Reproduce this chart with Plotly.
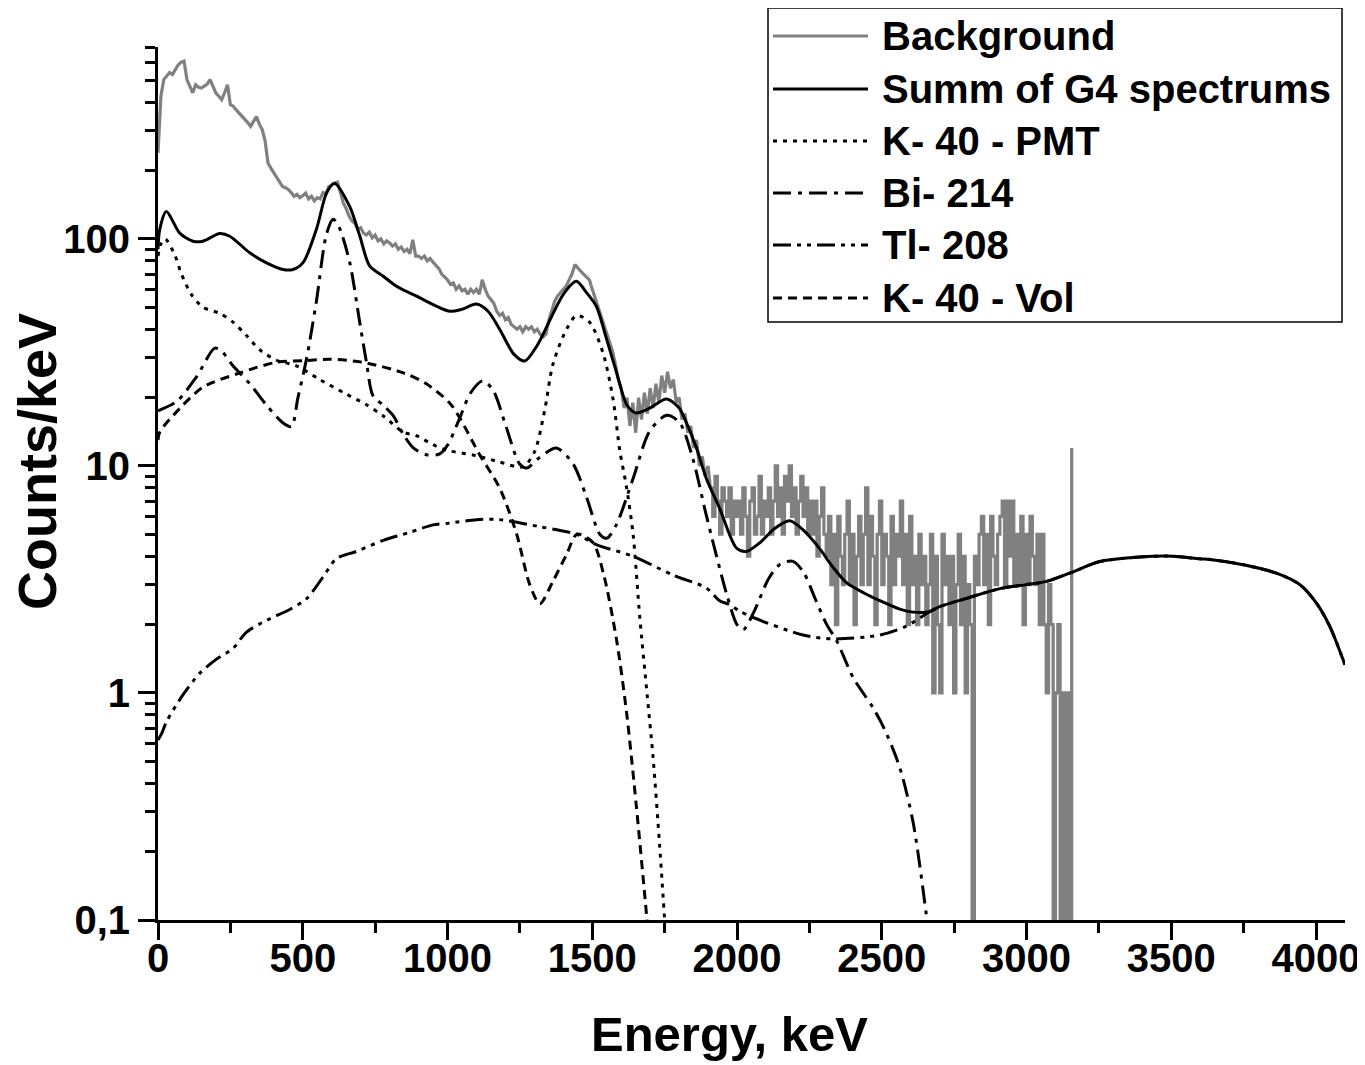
import numpy as np
import plotly.graph_objects as go

# ---------------- data ----------------
# Background spectrum, low-energy part (10 keV grid 0..1900)
bg_lo_x = list(range(0, 1901, 10))
bg_lo_y = [
    239, 424, 503, 520, 540, 530, 560, 585, 600, 606,   # 0-90
    503, 470, 440, 477, 465, 462, 470, 480, 503, 470,   # 100-190
    439, 425, 410, 440, 477, 390, 384, 370, 359, 345,   # 200-290
    336, 325, 313, 330, 346, 320, 303, 270, 216, 205,   # 300-390
    195, 185, 176, 170, 168, 165, 160, 154, 157, 152,   # 400-490
    155, 159, 150, 154, 147, 152, 150, 160, 158, 170,   # 500-590
    172, 176, 178, 160, 144, 136, 126, 120, 117, 110,   # 600-690
    112, 106, 104, 107, 101, 104, 98, 100, 95, 98,      # 700-790
    96, 93, 95, 90, 92, 88, 90, 86, 99, 84,             # 800-890
    84, 82, 84, 80, 82, 79, 76, 74, 70, 68,             # 900-990
    66, 63, 64, 60, 62, 59, 60, 57, 60, 58,             # 1000-1090
    60, 57, 66, 60, 56, 54, 52, 48, 46, 47,             # 1100-1190
    44, 45, 42, 41, 40, 41, 39, 41, 40, 41,             # 1200-1290
    39, 40, 38, 37, 38, 44, 49, 53, 56, 58,             # 1300-1390
    60, 62, 66, 70, 77, 74, 72, 70, 68, 66,             # 1400-1490
    60, 55, 50, 46, 42, 38, 35, 32, 28, 24,             # 1500-1590
    22, 18, 20, 15, 19, 14, 20, 16, 21, 17,             # 1600-1690
    22, 18, 23, 19, 25, 21, 26, 22, 24, 19,             # 1700-1790
    20, 16, 17, 14, 15, 12, 13, 10, 11, 9,              # 1800-1890
    10,                                                 # 1900
]
# Background spectrum, high-energy part (8 keV grid 1908..3156), integer counts
bg_hi_x = list(range(1908, 3157, 8))
bg_hi_y = [
    8, 6, 9, 7, 5, 8, 7, 6, 8, 5, 7, 6,                               # 1908-1996
    7, 5, 8, 6, 4, 7, 8, 5, 6, 9, 5, 7, 6,                            # 2004-2100
    8, 5, 7, 10, 6, 8, 5, 9, 7, 10, 6, 8, 5, 7, 9, 6, 8, 5, 7,        # 2108-2252
    5, 7, 4, 6, 8, 5,                                                 # 2260-2300
    4, 6, 3, 5, 2, 6, 4, 3, 5, 7, 3, 5, 2, 4, 6, 3,
    5, 8, 3, 6, 4, 2, 5, 7, 3, 5, 4, 2, 6, 3, 5, 4,                   # 2308-2556
    7, 3, 5, 2, 6, 3,                                                 # 2564-2604
    4, 2, 5, 3, 4, 2, 3, 5, 1,                                        # 2612-2676
    4, 2, 1, 5, 3, 4, 2, 4, 1, 3, 5, 2, 4, 1, 3, 2, 0, 4, 3, 5,       # 2684-2836
    6, 3, 5, 2, 6, 4, 3, 5, 6,                                        # 2844-2908
    7, 3, 7, 4, 7, 3,                                                 # 2916-2956
    5, 3, 6, 2, 5, 3, 6, 4, 3, 5, 2,                                  # 2964-3044
    5, 2, 1,                                                          # 3052-3068
    3, 2, 0, 1, 2, 0, 1, 0, 1, 0,                                     # 3076-3148
    12,                                                               # 3156
]

# Sum of G4 spectrums
sum_x = [0, 6, 29, 75, 121, 155, 213, 248, 317, 375, 432, 466, 501, 547, 582, 609,
         662, 697, 731, 778, 824, 893, 1008, 1050, 1100, 1140, 1180, 1230, 1267, 1310,
         1353, 1400, 1445, 1480, 1514, 1550, 1583, 1620, 1652, 1700, 1756, 1800, 1825,
         1860, 1894, 1940, 1998, 2032, 2080, 2130, 2182, 2230, 2286, 2330, 2378, 2440,
         2493, 2562, 2608, 2665, 2700, 2793, 2908, 3000, 3069, 3149, 3253, 3367, 3437,
         3506, 3598, 3634, 3749, 3863, 3944, 4001, 4047, 4100]
sum_y = [90, 110, 132, 106, 97.6, 97.6, 105.5, 102.7, 86.8, 78.4, 73.3, 73.3, 78.6, 110, 159, 176,
         139, 103, 76, 68.5, 61.8, 55.9, 48, 49, 51.6, 48, 40, 31, 29, 34,
         43.7, 57, 65, 58, 50.5, 36, 26, 18.5, 17.1, 18, 19.7, 18, 15.5,
         12, 8.8, 6.5, 4.35, 4.2, 4.6, 5.3, 5.73, 5.2, 4.31, 3.6, 3.06, 2.75,
         2.55, 2.34, 2.27, 2.28, 2.4, 2.61, 2.88, 3.0, 3.1, 3.37, 3.79, 3.95, 4.0,
         4.0, 3.9, 3.87, 3.67, 3.37, 3.0, 2.49, 1.97, 1.33]

# K-40 - PMT
k40pmt_x = [0, 10, 25, 58, 81, 115, 155, 213, 259, 305, 351, 409, 478, 559, 651, 720,
            778, 847, 892, 950, 1000, 1100, 1180, 1260, 1300, 1336, 1364, 1411, 1446,
            1491, 1537, 1572, 1595, 1618, 1641, 1664, 1687, 1710, 1733, 1755]
k40pmt_y = [84, 95, 100, 85, 70, 57, 50, 47, 43, 37.6, 32.5, 29.2, 27.6, 24, 20.7, 18.6,
            16.6, 14.1, 13.6, 12.4, 11.7, 11.1, 10.4, 9.9, 11.5, 17.7, 28, 40, 46,
            42.9, 31.5, 19.6, 11.7, 8.1, 5.0, 2.16, 1.06, 0.52, 0.21, 0.08]

# Bi-214
bi214_x = [0, 64, 133, 196, 220, 259, 317, 375, 431, 461, 483, 513, 547, 582, 605, 625,
           662, 697, 720, 743, 778, 813, 847, 882, 927, 973, 1001, 1040, 1080, 1122, 1157,
           1203, 1249, 1274, 1318, 1376, 1434, 1480, 1526, 1550, 1583, 1641, 1698, 1757,
           1802, 1848, 1894, 1965, 2000, 2022, 2060, 2110, 2150, 2193, 2230, 2270, 2310,
           2344, 2401, 2470, 2510, 2562, 2608, 2654, 2670]
bi214_y = [17.5, 19.2, 24.7, 33, 32, 27.6, 23, 18.5, 15.5, 14.9, 19.9, 29.6, 53, 105, 122, 113,
           79, 42.7, 28.6, 20.3, 18.5, 16.6, 13.8, 12, 11.2, 11.3, 12.4, 16, 21, 23.7, 21.6,
           14.8, 10.2, 9.8, 10.9, 12, 10.2, 7.3, 5.0, 4.8, 5.5, 8.8, 14.2, 16.7,
           15.5, 10.7, 6.05, 2.7, 2.0, 1.9, 2.3, 3.2, 3.7, 3.8, 3.4, 2.6, 2.0,
           1.7, 1.17, 0.86, 0.69, 0.47, 0.27, 0.105, 0.07]

# Tl-208 (above ~2650 keV it is the whole simulated sum)
tl208_x = [0, 12, 30, 86, 144, 202, 259, 305, 375, 455, 513, 570, 616, 685, 778, 870, 950,
           1008, 1100, 1180, 1318, 1446, 1514, 1641, 1780, 1894, 1940, 1974, 2008, 2055,
           2228, 2332, 2493, 2585, 2665, 2700, 2793, 2908, 3000, 3069, 3149, 3253, 3367,
           3437, 3506, 3598, 3634, 3749, 3863, 3944, 4001, 4047, 4100]
tl208_y = [0.62, 0.66, 0.75, 0.98, 1.22, 1.41, 1.57, 1.85, 2.09, 2.33, 2.6, 3.24, 3.9, 4.2,
           4.7, 5.1, 5.5, 5.6, 5.8, 5.8, 5.4, 5.0, 4.5, 4.0, 3.3, 2.9, 2.55, 2.45, 2.3, 2.15,
           1.8, 1.73, 1.8, 1.97, 2.28, 2.4, 2.61, 2.88, 3.0, 3.1, 3.37, 3.79, 3.95,
           4.0, 4.0, 3.9, 3.87, 3.67, 3.37, 3.0, 2.49, 1.97, 1.33]

# K-40 - Vol
k40vol_x = [0, 6, 75, 155, 283, 409, 513, 593, 708, 847, 927, 1008, 1042, 1111, 1180,
            1239, 1284, 1319, 1364, 1412, 1447, 1502, 1540, 1584, 1618, 1652, 1687, 1700]
k40vol_y = [13, 14.1, 17.9, 22.2, 25.7, 28.6, 29.1, 29.5, 28.6, 25.7, 23, 18.9, 16.3, 11.2, 8.0,
            5.0, 3.0, 2.47, 3.1, 4.1, 5.0, 4.6, 3.3, 1.71, 0.83, 0.32, 0.107, 0.07]

y_tick_vals = [0.1, 1, 10, 100]
y_tick_text = ["0,1", "1", "10", "100"]
x_tick_vals = [0, 500, 1000, 1500, 2000, 2500, 3000, 3500, 4000]

legend_names = ["Background", "Summ of G4 spectrums", "K- 40 - PMT", "Bi- 214", "Tl- 208", "K- 40 - Vol"]

# ---------------- styles ----------------
GRAY = "#808080"
styles = [
    dict(color=GRAY, width=3, dash="solid"),
    dict(color="black", width=3, dash="solid"),
    dict(color="black", width=3, dash="4px,6px"),
    dict(color="black", width=3, dash="18px,7px,4px,7px"),
    dict(color="black", width=3, dash="18px,6px,4px,6px,4px,6px"),
    dict(color="black", width=3, dash="9px,6px"),
]

FONT = "Liberation Sans, Arial, sans-serif"

bg_lo_plot = np.array(bg_lo_y, dtype=float)
bg_hi_arr = np.array(bg_hi_y, dtype=float)
bg_hi_plot = np.where(bg_hi_arr > 0, bg_hi_arr, 1e-3)   # zero counts drop to the axis

fig = go.Figure()
fig.add_trace(go.Scatter(x=bg_lo_x + [bg_hi_x[0]], y=list(bg_lo_plot) + [bg_hi_plot[0]], mode="lines",
                         line=dict(color=GRAY, width=3.2), name=legend_names[0]))
fig.add_trace(go.Scatter(x=bg_hi_x, y=bg_hi_plot, mode="lines",
                         line=dict(color=GRAY, width=3.2, shape="hv"), name=legend_names[0],
                         showlegend=False))
draw = [(tl208_x, tl208_y, 4), (k40vol_x, k40vol_y, 5), (bi214_x, bi214_y, 3),
        (k40pmt_x, k40pmt_y, 2), (sum_x, sum_y, 1)]
for xs, ys, si in draw:
    fig.add_trace(go.Scatter(x=xs, y=ys, mode="lines",
                             line=dict(**styles[si], shape="spline", smoothing=0.8),
                             name=legend_names[si]))

# page geometry (the html body adds an 8 px margin)
OFF = 8
W, H = 1365 - OFF, 1065 - OFF
L, R, T, B = 158, 1345, 47, 920          # plot area in page pixels
pw, ph = R - L, B - T

def px2paper_x(px):
    return (px - L) / pw

def py2paper_y(py):
    return (B - py) / ph

# manual legend
shapes = [dict(type="rect", xref="paper", yref="paper",
               x0=px2paper_x(768), x1=px2paper_x(1342), y0=py2paper_y(322), y1=py2paper_y(8),
               line=dict(color="black", width=1.5), fillcolor="white", layer="above")]
annotations = []
row_y = [36, 89, 141, 193, 245, 298]
for i, name in enumerate(legend_names):
    yy = py2paper_y(row_y[i])
    st = styles[i]
    shapes.append(dict(type="line", xref="paper", yref="paper",
                       x0=px2paper_x(773), x1=px2paper_x(868), y0=yy, y1=yy,
                       line=dict(color=st["color"], width=st["width"], dash=st["dash"]), layer="above"))
    annotations.append(dict(xref="paper", yref="paper", x=px2paper_x(880), y=yy,
                            text=name, showarrow=False, xanchor="left", yanchor="middle",
                            font=dict(family=FONT, size=40, color="black", weight="bold")))

# axis titles as annotations (placed like the original)
annotations.append(dict(xref="paper", yref="paper", x=px2paper_x(729), y=py2paper_y(1034),
                        text="Energy, keV", showarrow=False, xanchor="center", yanchor="middle",
                        font=dict(family=FONT, size=49, color="black", weight="bold")))
annotations.append(dict(xref="paper", yref="paper", x=px2paper_x(37), y=py2paper_y(461),
                        text="Counts/keV", showarrow=False, xanchor="center", yanchor="middle",
                        textangle=-90,
                        font=dict(family=FONT, size=54, color="black", weight="bold")))

fig.update_layout(
    width=W, height=H, autosize=False,
    margin=dict(l=L - OFF, r=W - (R - OFF), t=T - OFF, b=H - (B - OFF), pad=0),
    paper_bgcolor="white", plot_bgcolor="white",
    showlegend=False,
    shapes=shapes, annotations=annotations,
    font=dict(family=FONT, color="black"),
)
fig.update_xaxes(
    range=[0, 4100], showgrid=False, zeroline=False, automargin=False,
    showline=True, linecolor="black", linewidth=3,
    ticks="outside", ticklen=17, tickwidth=3, tickcolor="black",
    tickvals=x_tick_vals, ticktext=[str(v) for v in x_tick_vals],
    tickfont=dict(family=FONT, size=40, color="black", weight="bold"),
    ticklabelstandoff=-16,
    minor=dict(ticks="outside", ticklen=10, tickwidth=3, tickcolor="black",
               tickmode="array", tickvals=[v + 250 for v in x_tick_vals]),
)
minor_y = [m * d for d in [0.1, 1, 10, 100] for m in range(2, 10) if m * d <= 700]
fig.update_yaxes(
    type="log", range=[-1, np.log10(700)], showgrid=False, zeroline=False, automargin=False,
    showline=True, linecolor="black", linewidth=3,
    ticks="outside", ticklen=17, tickwidth=3, tickcolor="black",
    tickvals=y_tick_vals, ticktext=y_tick_text,
    tickfont=dict(family=FONT, size=40, color="black", weight="bold"),
    minor=dict(ticks="outside", ticklen=10, tickwidth=3, tickcolor="black",
               tickmode="array", tickvals=minor_y),
)

fig.write_html("out.html")
